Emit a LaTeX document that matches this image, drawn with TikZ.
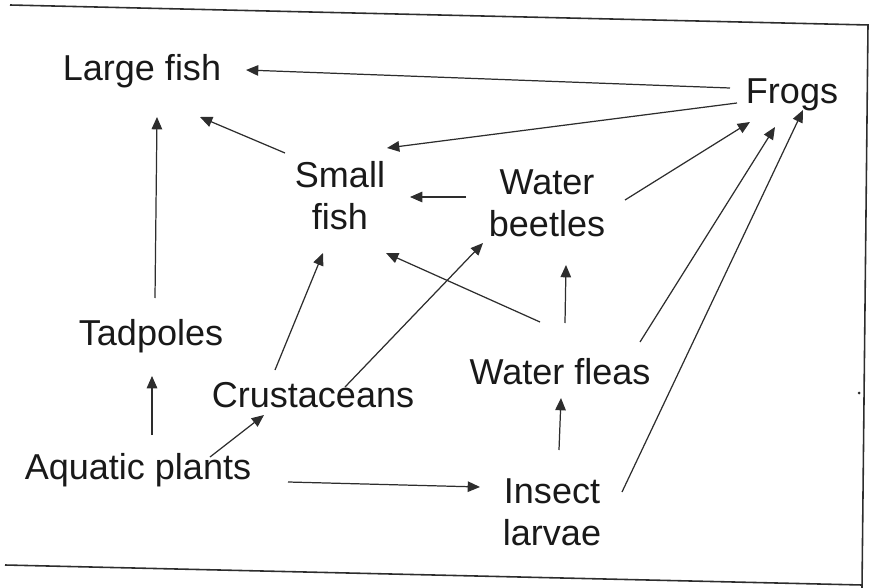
\documentclass[tikz,border=0pt]{standalone}
\usepackage{fontspec}
\setmainfont{Liberation Sans}
\usetikzlibrary{arrows.meta}
\definecolor{inkgray}{RGB}{45,45,45}

\begin{document}
\begin{tikzpicture}[x=0.02cm,y=-0.02cm,font=\fontsize{20.5}{24}\selectfont,>={Triangle[length=7pt,width=6pt]},
          sp/.style  ={inner sep=0pt,align=center,text=black!90},
          feed/.style={->,draw=inkgray,line width=0.7pt},
          edge/.style={draw=inkgray,line width=0.9pt}]
        \useasboundingbox (0,0) rectangle (869,588);
        \node[sp] (lfish)  at (142,71)  {Large fish};
        \node[sp] (frogs)  at (792,95)  {Frogs};
        \node[sp] (sfish)  at (340,196) {Small\\fish};
        \node[sp] (wbeet)  at (547,203) {Water\\beetles};
        \node[sp] (tad)    at (151,336) {Tadpoles};
        \node[sp] (crus)   at (313,395) {Crustaceans};
        \node[sp] (wflea)  at (560,372) {Water fleas};
        \node[sp] (plants) at (138,470) {Aquatic plants};
        \node[sp] (larv)   at (552,512) {Insect\\larvae};
        \draw[feed] ([shift={(-62,-7)}]frogs.center) -- ([shift={(104,-1)}]lfish.center);
        \draw[feed] ([shift={(-55,8)}]frogs.center) -- ([shift={(47,-48)}]sfish.center);
        \draw[feed] ([shift={(-55,-43)}]sfish.center) -- ([shift={(58,46)}]lfish.center);
        \draw[feed] ([shift={(4,-38)}]tad.center) -- ([shift={(15,46)}]lfish.center);
        \draw[feed] ([shift={(-81,-6)}]wbeet.center) -- ([shift={(70,1)}]sfish.center);
        \draw[feed] ([shift={(78,-3)}]wbeet.center) -- ([shift={(-42,27)}]frogs.center);
        \draw[feed] ([shift={(80,-30)}]wflea.center) -- ([shift={(-17,32)}]frogs.center);
        \draw[feed] ([shift={(70,-20)}]larv.center) -- ([shift={(11,15)}]frogs.center);
        \draw[feed] ([shift={(-38,-25)}]crus.center) -- ([shift={(-17,57)}]sfish.center);
        \draw[feed] ([shift={(32,-8)}]crus.center) -- ([shift={(-64,40)}]wbeet.center);
        \draw[feed] ([shift={(-20,-50)}]wflea.center) -- ([shift={(46,57)}]sfish.center);
        \draw[feed] ([shift={(5,-49)}]wflea.center) -- ([shift={(19,62)}]wbeet.center);
        \draw[feed] ([shift={(14,-35)}]plants.center) -- ([shift={(1,40)}]tad.center);
        \draw[feed] ([shift={(72,-13)}]plants.center) -- ([shift={(-49,20)}]crus.center);
        \draw[feed] ([shift={(150,12)}]plants.center) -- ([shift={(-72,-25)}]larv.center);
        \draw[feed] ([shift={(7,-62)}]larv.center) -- ([shift={(1,26)}]wflea.center);
        \draw[edge] (10,5) -- (869,25);
        \draw[edge] (868,25) -- (862,588);
        \draw[edge] (5,565) -- (862,585);
        \fill[inkgray] (859,393) circle (1.5);
      \end{tikzpicture}
\end{document}
